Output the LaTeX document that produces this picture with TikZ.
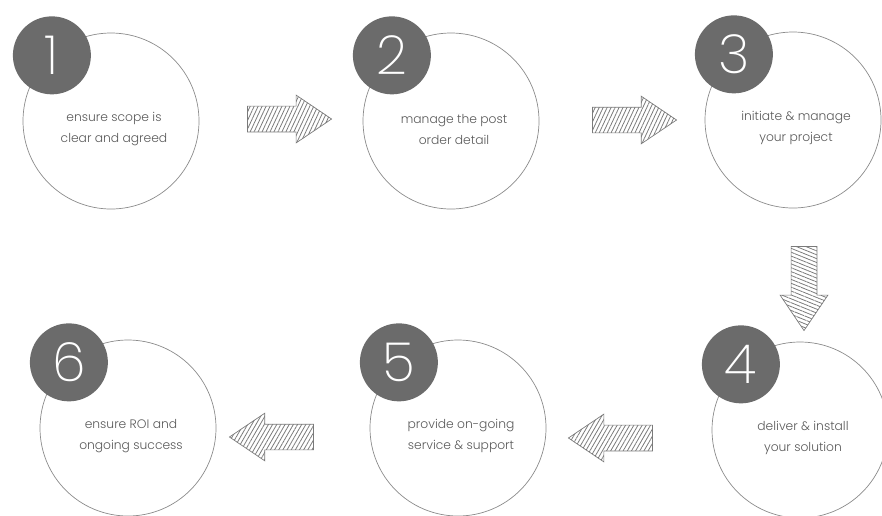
\documentclass[tikz,border=0pt]{standalone}
\usepackage{fontspec}
\IfFontExistsTF{Poppins Light}{\setmainfont{Poppins Light}}{%
  \IfFontExistsTF{Poppins-Light.otf}{\setmainfont{Poppins-Light.otf}}{%
    \IfFontExistsTF{Poppins-Light.ttf}{\setmainfont{Poppins-Light.ttf}}{\setmainfont{Poppins}}}}
\IfFontExistsTF{Poppins ExtraLight}{\newfontfamily\digitfont{Poppins ExtraLight}}{%
  \IfFontExistsTF{Poppins-ExtraLight.otf}{\newfontfamily\digitfont{Poppins-ExtraLight.otf}}{%
    \IfFontExistsTF{Poppins-ExtraLight.ttf}{\newfontfamily\digitfont{Poppins-ExtraLight.ttf}}{\newfontfamily\digitfont{Poppins}}}}
\usetikzlibrary{shapes.arrows,patterns.meta,positioning}

\definecolor{badgegray}{HTML}{6B6B6B}
\definecolor{ringgray}{HTML}{8C8C8C}
\definecolor{labelgray}{HTML}{5A5A5A}
\definecolor{hatchgray}{HTML}{7A7A7A}

\begin{document}
\begin{tikzpicture}[
  x=1pt, y=-1pt,
  ring/.style={circle, draw=ringgray, line width=0.7pt, fill=white, minimum size=176pt, inner sep=0pt},
  steptext/.style={align=center, text=labelgray, font=\fontsize{12.3}{21}\selectfont, xshift=3pt, yshift=-8pt},
  badge/.style={circle, fill=badgegray, minimum size=78pt, inner sep=0pt, text=white,
    font=\digitfont\fontsize{54}{54}\selectfont},
  hatched/.style={single arrow, draw=hatchgray, line width=0.7pt, minimum height=84pt,
    inner xsep=0pt, inner ysep=12.5pt, single arrow head extend=11pt, single arrow tip angle=68,
    pattern color=hatchgray, pattern={Lines[angle=#1, distance=3.6pt, line width=0.8pt]}}
]
\useasboundingbox (0,0) rectangle (882,515);
% steps
\node[ring] (c1) at (111,121) {};
\node[ring] (c2) at (451,121) {};
\node[ring] (c3) at (793,120) {};
\node[ring] (c4) at (800,430) {};
\node[ring] (c5) at (458,428) {};
\node[ring] (c6) at (128,428) {};
\node[steptext] (t1) at (c1.center) {ensure scope is\\clear and agreed};
\node[steptext] (t2) at (c2.center) {manage the post\\order detail};
\node[steptext] (t3) at (c3.center) {initiate \& manage\\your project};
\node[steptext] (t4) at (c4.center) {deliver \& install\\your solution};
\node[steptext] (t5) at (c5.center) {provide on-going\\service \& support};
\node[steptext] (t6) at (c6.center) {ensure ROI and\\ongoing success};
\node[badge] (b1) at (c1.132) {1};
\node[badge] (b2) at (c2.132) {2};
\node[badge] (b3) at (c3.132) {3};
\node[badge] (b4) at (c4.132) {4};
\node[badge] (b5) at (c5.132) {5};
\node[badge] (b6) at (c6.132) {6};
% arrows between steps
\node[hatched=65] (a1) at (280,119) {};
\node[hatched=65] (a2) at (625,120) {};
\node[hatched=-22, shape border rotate=270, inner xsep=12.5pt, inner ysep=0pt] (a3) at (804,279) {};
\node[hatched=60, shape border rotate=180] (a4) at (620,438) {};
\node[hatched=60, shape border rotate=180] (a5) at (281,437) {};
\end{tikzpicture}
\end{document}
